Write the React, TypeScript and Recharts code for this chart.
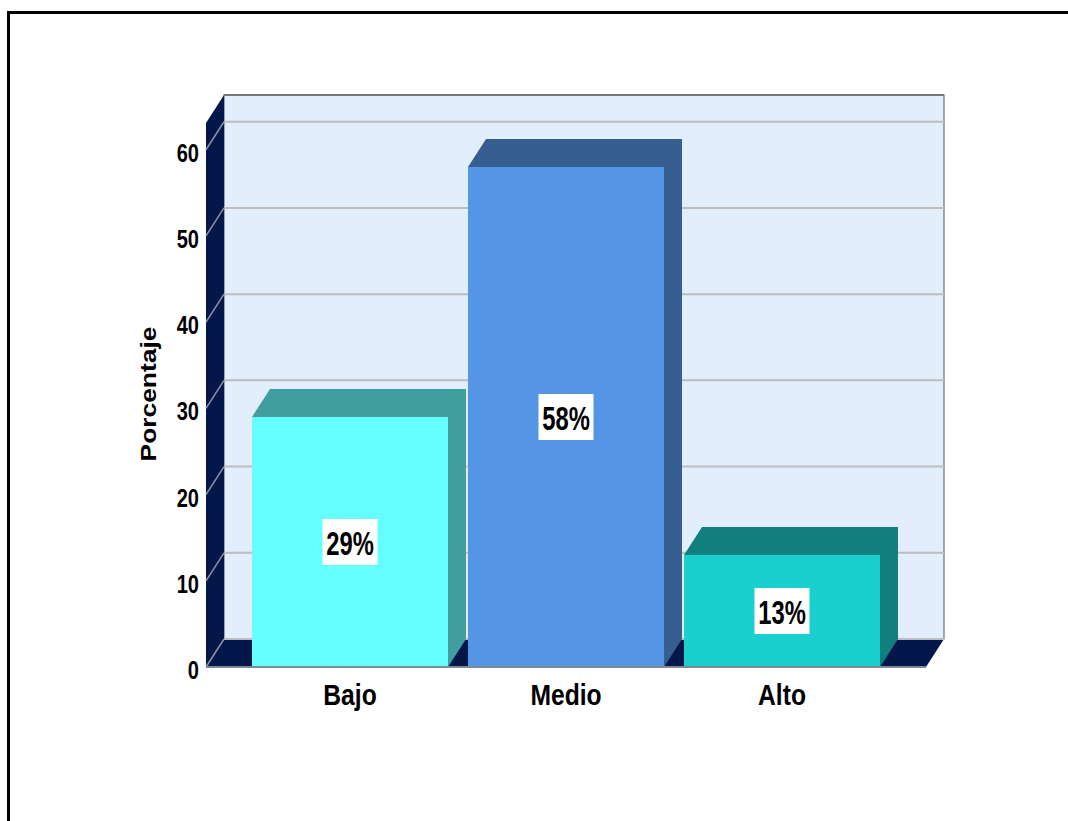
import React from 'react';
import { BarChart, Bar, XAxis, YAxis, CartesianGrid, LabelList, usePlotArea } from 'recharts';

const categories = ['Bajo', 'Medio', 'Alto'];
const percentages = [29, 58, 13];
const yTicks = [0, 10, 20, 30, 40, 50, 60];

const frontColors = ['#66ffff', '#5595e6', '#1bcfcf'];
const sideColors = ['#409e9e', '#365e91', '#127f7f'];

const data = categories.map((name, i) => ({ name, value: percentages[i] }));

// offset of the back wall from the front plane
const DEPTH_X = 18;
const DEPTH_Y = 28;
const NAVY = '#03174a';
const SANS = '"Liberation Sans", Arial, sans-serif';

// bold text squeezed horizontally, since no condensed face is installed
const NarrowText = ({ x, y, size, squeeze, anchor = 'middle', children }: any) => (
  <text
    transform={`translate(${x},${y}) scale(${squeeze},1)`}
    textAnchor={anchor}
    fontFamily={SANS}
    fontWeight="bold"
    fontSize={size}
    fill="#000"
  >
    {children}
  </text>
);

const Walls = () => {
  const plot = usePlotArea();
  if (!plot) return null;
  const { x, y, width, height } = plot;
  const right = x + width;
  const bottom = y + height;
  return (
    <g>
      <rect x={x + DEPTH_X} y={y - DEPTH_Y} width={width} height={height} fill="#e2eefb" stroke="#555" strokeWidth={1} />
      <line x1={x + DEPTH_X} y1={y - DEPTH_Y} x2={right + DEPTH_X} y2={y - DEPTH_Y} stroke="#777" strokeWidth={2} />
      <polygon
        points={`${x},${y} ${x + DEPTH_X},${y - DEPTH_Y} ${x + DEPTH_X},${bottom - DEPTH_Y} ${x},${bottom}`}
        fill={NAVY}
      />
      <polygon
        points={`${x},${bottom} ${x + DEPTH_X},${bottom - DEPTH_Y} ${right + DEPTH_X},${bottom - DEPTH_Y} ${right},${bottom}`}
        fill={NAVY}
      />
    </g>
  );
};

// gridline on the back wall plus the diagonal running down the left wall.
// The walls go in with the first line so they stay in the grid's layer, under the lines.
const WallGridLine = (props: any) => {
  const { x1, x2, y1, index } = props;
  return (
    <g key={props.key}>
      {index === 0 && <Walls />}
      <line x1={x1 + DEPTH_X} y1={y1 - DEPTH_Y} x2={x2 + DEPTH_X} y2={y1 - DEPTH_Y} stroke="#bdbdbd" strokeWidth={2} />
      <line x1={x1} y1={y1} x2={x1 + DEPTH_X} y2={y1 - DEPTH_Y} stroke="#8d93a3" strokeWidth={1.5} />
    </g>
  );
};

// front face, with the top and right faces as one shape behind it
const Box3D = (props: any) => {
  const { x, y, width, height, index } = props;
  const r = x + width;
  const b = y + height;
  return (
    <g>
      <polygon
        points={`${x},${y} ${x + DEPTH_X},${y - DEPTH_Y} ${r + DEPTH_X},${y - DEPTH_Y} ${r + DEPTH_X},${b - DEPTH_Y} ${r},${b} ${r},${y}`}
        fill={sideColors[index]}
      />
      <rect x={x} y={y} width={width} height={height} fill={frontColors[index]} />
    </g>
  );
};

const ValueTag = (props: any) => {
  const { x, y, width, height, value } = props;
  const cx = x + width / 2;
  const cy = y + height / 2;
  return (
    <g>
      <rect x={cx - 27.5} y={cy - 23} width={55} height={46} fill="#ffffff" />
      <NarrowText x={cx} y={cy + 13} size={34} squeeze={0.7}>{`${value}%`}</NarrowText>
    </g>
  );
};

const CategoryTick = ({ x, y, payload }: any) => (
  <NarrowText x={x} y={y + 22} size={29} squeeze={0.85}>{payload.value}</NarrowText>
);

const ValueTick = ({ x, y, payload }: any) => (
  <NarrowText x={x} y={y + 12} size={26} squeeze={0.77} anchor="end">{payload.value}</NarrowText>
);

const AxisTitle = ({ viewBox }: any) => {
  const cy = viewBox.y + viewBox.height / 2;
  return (
    <text
      transform={`translate(156,${cy - 1}) rotate(-90) scale(1.2,1)`}
      textAnchor="middle"
      fontFamily={SANS}
      fontWeight="bold"
      fontSize={22}
      fill="#000"
    >
      Porcentaje
    </text>
  );
};

const App = () => (
  <div style={{ position: 'absolute', left: 0, top: 0, width: 1068, height: 821, overflow: 'hidden', background: '#fff' }}>
    <div style={{ position: 'absolute', left: 7, top: 11, width: 1100, height: 900, borderLeft: '3px solid #000', borderTop: '3px solid #000' }} />
    <div style={{ position: 'absolute', left: 0, top: 0 }}>
      <BarChart
        width={1068}
        height={821}
        data={data}
        margin={{ top: 123, right: 142, bottom: 114, left: 126 }}
        barSize={196}
      >
        <CartesianGrid vertical={false} horizontal={WallGridLine} horizontalValues={yTicks} />
        <XAxis
          dataKey="name"
          height={40}
          padding={{ left: 36, right: 36 }}
          axisLine={{ stroke: '#7d8a94', strokeWidth: 2 }}
          tickLine={false}
          tickMargin={10}
          interval={0}
          tick={CategoryTick}
        />
        <YAxis
          width={80}
          domain={[0, 63.1]}
          ticks={yTicks}
          interval={0}
          axisLine={false}
          tickLine={false}
          tickSize={0}
          tickMargin={7}
          tick={ValueTick}
          label={<AxisTitle />}
        />
        <Bar dataKey="value" shape={Box3D} isAnimationActive={false}>
          <LabelList dataKey="value" content={ValueTag} />
        </Bar>
      </BarChart>
    </div>
  </div>
);

export default App;
